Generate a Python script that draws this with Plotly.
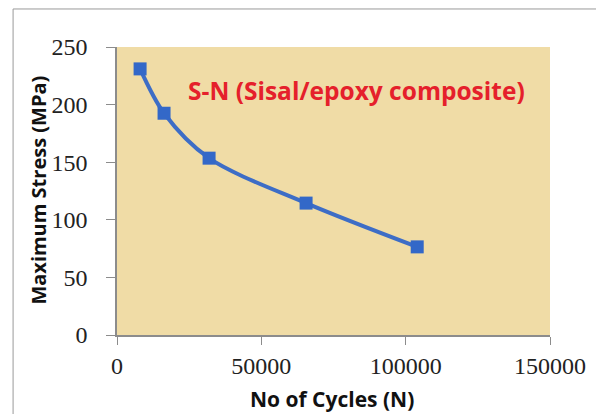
import plotly.graph_objects as go

# S-N data
cycles = [8000, 16300, 31900, 65500, 104000]
stress = [231, 192.5, 153.5, 114.5, 76.5]

x_ticks = [0, 50000, 100000, 150000]
y_ticks = [0, 50, 100, 150, 200, 250]

fig = go.Figure()

fig.add_trace(go.Scatter(
    x=cycles, y=stress,
    mode="lines+markers",
    line=dict(color="#3D6DC6", width=4, shape="spline", smoothing=0.9),
    marker=dict(symbol="square", size=13, color="#3368C8"),
    showlegend=False,
))

fig.add_annotation(
    x=0.554, y=0.85, xref="paper", yref="paper",
    xanchor="center", yanchor="middle",
    text="<b>S-N (Sisal/epoxy composite)</b>",
    showarrow=False,
    font=dict(family="Open Sans", size=24.5, color="#E5202B"),
)

# axis titles placed as annotations
fig.add_annotation(x=0.496, y=-0.222, xref="paper", yref="paper",
                   xanchor="center", yanchor="middle",
                   text="<b>No of Cycles (N)</b>", showarrow=False,
                   font=dict(family="Open Sans", size=21, color="#111"))
fig.add_annotation(x=-0.182, y=0.502, xref="paper", yref="paper", textangle=-90,
                   xanchor="center", yanchor="middle",
                   text="<b>Maximum Stress (MPa)</b>", showarrow=False,
                   font=dict(family="Open Sans", size=20, color="#111"))

# outer chart border
fig.add_shape(type="rect", xref="paper", yref="paper",
              x0=-0.240, x1=1.3, y0=-0.4, y1=1.132,
              line=dict(color="#9A9A9A", width=1), layer="below")

axis_font = dict(family="Liberation Serif", size=24, color="#222")

# page body has an 8px margin, so the figure starts 8px in from the window edge
fig.update_layout(
    width=596, height=406,
    margin=dict(l=109, r=54, t=39, b=79, autoexpand=False),
    paper_bgcolor="white",
    plot_bgcolor="#F0DCA6",
    xaxis=dict(
        range=[0, 150000], tickvals=x_ticks, ticktext=[str(v) for v in x_ticks],
        showgrid=False, zeroline=False,
        showline=True, linecolor="#8C8C8C", linewidth=1.5,
        ticks="outside", ticklen=8, tickcolor="#8C8C8C",
        tickfont=axis_font,
    ),
    yaxis=dict(
        range=[0, 250], tickvals=y_ticks,
        showgrid=False, zeroline=False,
        showline=True, linecolor="#8C8C8C", linewidth=1.5,
        ticks="outside", ticklen=9, tickcolor="#8C8C8C",
        ticklabelstandoff=14,
        tickfont=axis_font,
    ),
)

fig.write_html("out.html")
